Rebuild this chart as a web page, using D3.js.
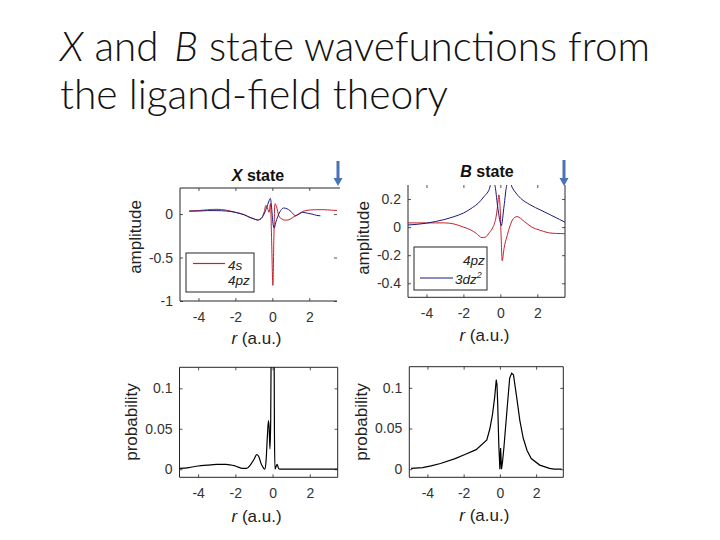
<!DOCTYPE html>
<html><head><meta charset="utf-8">
<script src="https://cdn.jsdelivr.net/npm/d3@7"></script>
<style>body{margin:0;background:#fff} svg{display:block}</style>
</head><body><svg id="c" width="720" height="540"></svg>
<script>
// ---------- data ----------
const titleLine1 = ["X", " and ", "B", " state wavefunctions from"];
const titleLine2 = "the ligand-field theory";
const panelTitles = ["X", "B"];
const xTickValues = [-4, -2, 0, 2];
const xTickLabels = ["-4", "-2", "0", "2"];
const ampXTickValues = [0, -0.5, -1];
const ampXTickLabels = ["0", "-0.5", "-1"];
const ampBTickValues = [0.2, 0, -0.2, -0.4];
const ampBTickLabels = ["0.2", "0", "-0.2", "-0.4"];
const probTickValues = [0, 0.05, 0.1];
const probTickLabels = ["0", "0.05", "0.1"];

// X state, 4s (red)
const xs4sR = [-4.5, -4, -3.5, -3, -2.5, -2, -1.5, -1.2, -1.0, -0.8, -0.6, -0.45, -0.35, -0.25, -0.18, -0.1, -0.04, 0.03, 0.08, 0.14, 0.22, 0.35, 0.5, 0.7, 0.9, 1.1, 1.4, 1.8, 2.3, 2.8, 3.2, 3.6];
const xs4sV = [0.035, 0.04, 0.05, 0.055, 0.045, 0.02, -0.01, -0.04, -0.055, -0.068, -0.05, 0.02, 0.1, 0.06, 0.02, 0.12, -0.3, -0.82, -0.3, 0.12, 0.09, -0.02, -0.055, -0.07, -0.065, -0.04, 0.0, 0.04, 0.05, 0.05, 0.045, 0.04];
// X state, 4pz (blue)
const xs4pzR = [-4.5, -4, -3.5, -3, -2.5, -2, -1.5, -1.2, -1.0, -0.8, -0.6, -0.45, -0.3, -0.2, -0.11, -0.03, 0.04, 0.1, 0.18, 0.29, 0.45, 0.61, 0.8, 0.95, 1.1, 1.25, 1.45, 1.64, 1.9, 2.15, 2.4, 2.6];
const xs4pzV = [0.034, 0.035, 0.04, 0.04, 0.035, 0.02, -0.01, -0.04, -0.055, -0.068, -0.05, 0.0, 0.08, 0.14, 0.18, 0.05, -0.12, -0.16, -0.1, -0.03, 0.04, 0.07, 0.06, 0.04, 0.01, -0.02, 0.0, 0.02, 0.01, 0.0, -0.015, -0.02];
// B state, 4pz (red)
const bs4pzR = [-5, -4.5, -4, -3.5, -3, -2.5, -2, -1.6, -1.3, -1.0, -0.8, -0.6, -0.4, -0.25, -0.15, -0.08, 0.0, 0.05, 0.1, 0.2, 0.35, 0.5, 0.7, 0.9, 1.3, 1.7, 2.1, 2.6, 3.0, 3.5];
const bs4pzV = [0.03, 0.03, 0.03, 0.03, 0.03, 0.022, 0.0, -0.02, -0.045, -0.075, -0.07, -0.04, 0.0, 0.06, 0.15, 0.23, 0.1, -0.1, -0.24, -0.15, -0.07, 0.0, 0.06, 0.075, 0.04, 0.0, -0.02, -0.04, -0.045, -0.047];
// B state, 3dz2 (blue)
const bs3dR = [-5, -4.5, -4, -3.5, -3, -2.5, -2, -1.5, -1.2, -0.9, -0.6, -0.45, -0.3, -0.15, 0.0, 0.05, 0.2, 0.35, 0.5, 0.65, 0.8, 1.1, 1.6, 2.2, 2.7, 3.2, 3.5];
const bs3dV = [0.015, 0.02, 0.028, 0.04, 0.055, 0.075, 0.1, 0.14, 0.17, 0.215, 0.27, 0.33, 0.3, 0.15, 0.03, 0.01, 0.15, 0.3, 0.33, 0.28, 0.25, 0.205, 0.16, 0.12, 0.088, 0.055, 0.035];
// X state probability
const xpR = [-5, -4.5, -4, -3.5, -3, -2.5, -2, -1.6, -1.4, -1.2, -1.0, -0.85, -0.75, -0.6, -0.5, -0.42, -0.35, -0.28, -0.22, -0.18, -0.14, -0.1, -0.06, 0.0, 0.06, 0.1, 0.13, 0.2, 0.25, 0.32, 0.4, 1.0, 2.0, 3.5];
const xpV = [0.001, 0.002, 0.004, 0.005, 0.006, 0.006, 0.004, 0.001, 0.001, 0.005, 0.012, 0.018, 0.016, 0.006, 0.002, 0.0, 0.01, 0.04, 0.06, 0.05, 0.025, 0.06, 0.2, 0.67, 0.3, 0.05, 0.0, 0.004, 0.006, 0.001, 0.0, 0.0, 0.0, 0.0];
// B state probability
const bpR = [-4.9, -4.27, -3.8, -3.28, -2.47, -1.93, -1.31, -0.72, -0.55, -0.41, -0.29, -0.2, -0.16, -0.12, -0.06, 0.0, 0.04, 0.09, 0.15, 0.22, 0.4, 0.54, 0.65, 0.75, 0.93, 1.1, 1.29, 1.5, 1.73, 2.2, 2.74, 3.0, 3.4];
const bpV = [0.001, 0.002, 0.004, 0.007, 0.013, 0.018, 0.024, 0.036, 0.05, 0.067, 0.088, 0.11, 0.104, 0.08, 0.03, 0.0, 0.026, 0.0, 0.01, 0.026, 0.075, 0.112, 0.118, 0.116, 0.088, 0.06, 0.038, 0.023, 0.013, 0.005, 0.001, 0.0, 0.0];

// ---------- drawing ----------
const svg = d3.select("#c");
const FONT = "'Liberation Sans', Arial, Helvetica, sans-serif";
const RED = "#c8202b", BLUE = "#1b1b78", AX = "#262626";

// slide title
const tfont = "Lato, 'Open Sans', 'Noto Sans', sans-serif";
const t1 = svg.append("text").attr("x", 60).attr("y", 61)
  .attr("font-family", tfont).attr("font-weight", 300).attr("font-size", 42).attr("fill", "#111")
  .attr("textLength", 590).attr("lengthAdjust", "spacingAndGlyphs");
titleLine1.forEach((s, i) => {
  const ts = t1.append("tspan").attr("font-style", (i === 0 || i === 2) ? "italic" : "normal").text(s);
  if (i === 2) ts.attr("dx", 5);
});
svg.append("text").attr("x", 60).attr("y", 109)
  .attr("font-family", tfont).attr("font-weight", 300).attr("font-size", 42).attr("fill", "#111")
  .attr("textLength", 388).attr("lengthAdjust", "spacingAndGlyphs").text(titleLine2);

let clipN = 0;
function panel(p) {
  const x = d3.scaleLinear().domain([-5, 3.5]).range([p.l, p.r]);
  const y = d3.scaleLinear().domain(p.yDom).range([p.b, p.t]);
  const g = svg.append("g");
  const id = "clip" + (clipN++);
  g.append("clipPath").attr("id", id).append("rect")
    .attr("x", p.l).attr("y", p.t).attr("width", p.r - p.l).attr("height", p.b - p.t);

  const styleAxis = sel => {
    sel.select(".domain").remove();
    sel.selectAll("line").attr("stroke", AX).attr("stroke-width", 0.8);
    sel.selectAll("text").attr("font-family", FONT).attr("font-size", 14).attr("fill", "#333");
  };
  g.append("g").attr("transform", `translate(0,${p.b})`)
    .call(d3.axisBottom(x).tickValues(xTickValues).tickSize(-3).tickPadding(11)
      .tickFormat(d => xTickLabels[xTickValues.indexOf(d)])).call(styleAxis);
  g.append("g").attr("transform", `translate(0,${p.t})`)
    .call(d3.axisTop(x).tickValues(xTickValues).tickSize(-3).tickFormat("")).call(styleAxis);
  g.append("g").attr("transform", `translate(${p.l},0)`)
    .call(d3.axisLeft(y).tickValues(p.yTicks).tickSize(-3).tickPadding(7)
      .tickFormat(d => p.yLabels[p.yTicks.indexOf(d)])).call(styleAxis);
  g.append("g").attr("transform", `translate(${p.r},0)`)
    .call(d3.axisRight(y).tickValues(p.yTicks).tickSize(-3).tickFormat("")).call(styleAxis);

  // box lines
  const ln = (x1, y1, x2, y2) => g.append("line").attr("x1", x1).attr("y1", y1).attr("x2", x2).attr("y2", y2)
    .attr("stroke", AX).attr("stroke-width", 1);
  ln(p.l, p.t, p.l, p.b);
  ln(p.l, p.b, p.r, p.b);
  if (p.topLine) ln(p.l, p.t, p.topLineEnd || p.r, p.t);
  if (p.rightLine) ln(p.r, p.t, p.r, p.b);

  // curves
  const plot = g.append("g").attr("clip-path", `url(#${id})`);
  p.series.forEach(s => {
    const pts = s.r.map((r, i) => [r, s.v[i]]);
    plot.append("path").attr("d", d3.line().x(d => x(d[0])).y(d => y(d[1])).curve(s.curve || d3.curveMonotoneX)(pts))
      .attr("fill", "none").attr("stroke", s.color).attr("stroke-width", s.w || 1);
  });

  // labels
  if (p.title) {
    const tt = g.append("text").attr("x", p.titleX).attr("y", p.titleY).attr("text-anchor", "middle")
      .attr("font-family", FONT).attr("font-weight", "bold").attr("font-size", 16).attr("fill", "#111");
    tt.append("tspan").attr("font-style", "italic").text(p.title);
    tt.append("tspan").text(" state");
  }
  g.append("text").attr("transform", `translate(${p.ylX},${p.ylY}) rotate(-90)`).attr("text-anchor", "middle")
    .attr("font-family", FONT).attr("font-size", 17).attr("fill", "#222").text(p.ylabel);
  const xl = g.append("text").attr("x", (p.l + p.r) / 2 - 2).attr("y", p.xlY).attr("text-anchor", "middle")
    .attr("font-family", FONT).attr("font-size", 17).attr("fill", "#222");
  xl.append("tspan").attr("font-style", "italic").text("r");
  xl.append("tspan").text(" (a.u.)");
  return g;
}

// Top-left: X state amplitude
const gX = panel({
  l: 180, r: 337, t: 188, b: 301, yDom: [-1, 0.3], yTicks: ampXTickValues, yLabels: ampXTickLabels,
  topLine: true, topLineEnd: 340, rightLine: false,
  series: [{ r: xs4sR, v: xs4sV, color: RED }, { r: xs4pzR, v: xs4pzV, color: BLUE }],
  title: panelTitles[0], titleX: 258, titleY: 181, ylabel: "amplitude", ylX: 141, ylY: 237, xlY: 344
});
// Top-right: B state amplitude
const gB = panel({
  l: 408, r: 565, t: 185, b: 297.3, yDom: [-0.5, 0.3], yTicks: ampBTickValues, yLabels: ampBTickLabels,
  topLine: false, rightLine: true,
  series: [{ r: bs4pzR, v: bs4pzV, color: RED }, { r: bs3dR, v: bs3dV, color: BLUE }],
  title: panelTitles[1], titleX: 487, titleY: 177, ylabel: "amplitude", ylX: 369, ylY: 238, xlY: 341
});
// Bottom-left: X state probability
panel({
  l: 179.5, r: 337.7, t: 367.3, b: 477.3, yDom: [-0.01, 0.126], yTicks: probTickValues, yLabels: probTickLabels,
  topLine: true, rightLine: true,
  series: [{ r: xpR, v: xpV, color: "#000", w: 1.2 }],
  ylabel: "probability", ylX: 137, ylY: 422, xlY: 522
});
// Bottom-right: B state probability
panel({
  l: 409.3, r: 563.3, t: 366.7, b: 477.3, yDom: [-0.01, 0.126], yTicks: probTickValues, yLabels: probTickLabels,
  topLine: true, rightLine: true,
  series: [{ r: bpR, v: bpV, color: "#000", w: 1.2, curve: d3.curveLinear }],
  ylabel: "probability", ylX: 367, ylY: 422, xlY: 521
});

// legends
function legend(g, box, items) {
  g.append("rect").attr("x", box[0]).attr("y", box[1]).attr("width", box[2]).attr("height", box[3])
    .attr("fill", "#fff").attr("stroke", AX).attr("stroke-width", 1);
  items.forEach(it => {
    if (it.line) g.append("line").attr("x1", it.line[0]).attr("x2", it.line[1]).attr("y1", it.line[2]).attr("y2", it.line[2])
      .attr("stroke", it.color).attr("stroke-width", 1.2);
    const t = g.append("text").attr("x", it.tx).attr("y", it.ty).attr("font-family", FONT).attr("font-size", 13.5)
      .attr("font-style", "italic").attr("fill", "#222");
    it.parts.forEach(pp => {
      const ts = t.append("tspan").text(pp.s);
      if (pp.sup) ts.attr("font-size", 9).attr("dy", -6);
    });
  });
}
legend(gX, [186, 253, 68, 39], [
  { line: [193, 225, 263.5], color: RED, tx: 228, ty: 269.5, parts: [{ s: "4s" }] },
  { tx: 228, ty: 285, parts: [{ s: "4pz" }] }
]);
legend(gB, [414, 247, 73, 43], [
  { tx: 463, ty: 265, parts: [{ s: "4pz" }] },
  { line: [420, 453, 278], color: BLUE, tx: 455, ty: 284, parts: [{ s: "3dz" }, { s: "2", sup: true }] }
]);

// blue arrows
function arrow(cx, y0, y1) {
  const p = d3.path();
  p.moveTo(cx - 1.5, y0); p.lineTo(cx + 1.5, y0); p.lineTo(cx + 1.5, y1 - 8);
  p.lineTo(cx + 4.5, y1 - 8); p.lineTo(cx, y1); p.lineTo(cx - 4.5, y1 - 8); p.lineTo(cx - 1.5, y1 - 8); p.closePath();
  svg.append("path").attr("d", p.toString()).attr("fill", "#4a72b8");
}
arrow(338, 161, 186);
arrow(564, 160, 186);
</script></body></html>
